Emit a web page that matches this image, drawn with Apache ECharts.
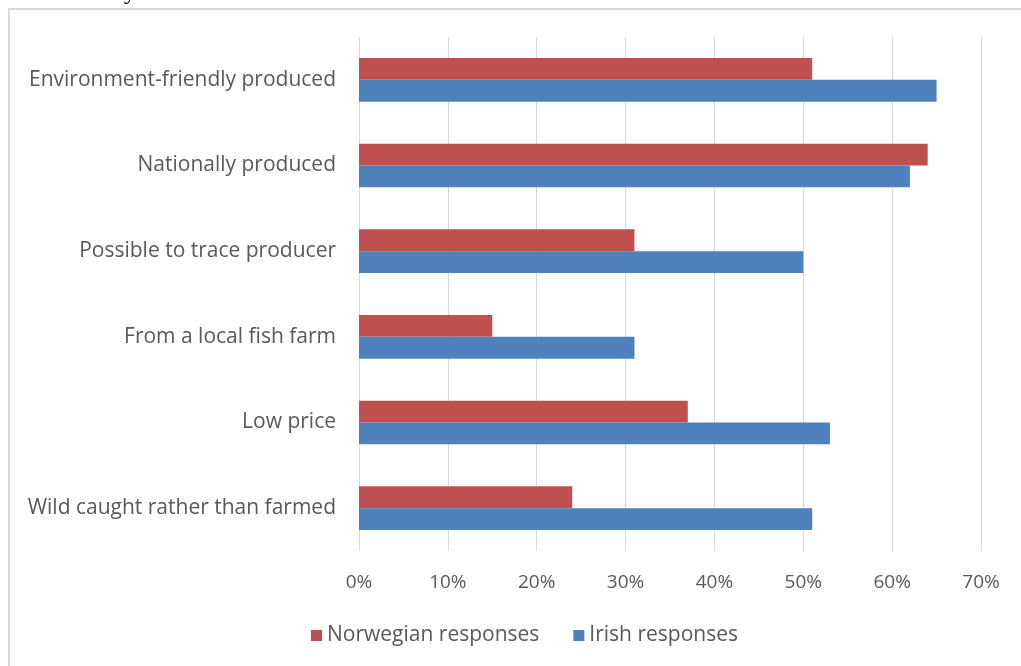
<!DOCTYPE html>
<html>
<head>
<meta charset="utf-8">
<script src="https://cdn.jsdelivr.net/npm/echarts@6/dist/echarts.min.js"></script>
<style>
  html, body { margin: 0; padding: 0; background: #fff; }
  #chart { width: 1021px; height: 666px; }
</style>
</head>
<body>
<div id="chart"></div>
<script>
// Attributes listed from top to bottom
const categories = [
  'Environment-friendly produced',
  'Nationally produced',
  'Possible to trace producer',
  'From a local fish farm',
  'Low price',
  'Wild caught rather than farmed'
];
// Share of respondents (%)
const norwegian = [51, 64, 31, 15, 37, 24];
const irish = [65, 62, 50, 31, 53, 51];
const seriesNames = ['Norwegian responses', 'Irish responses'];

const textColor = '#595959';
const fontFamily = '"Open Sans", Lato, sans-serif';

const chart = echarts.init(document.getElementById('chart'));
chart.setOption({
  animation: false,
  backgroundColor: '#fff',
  textStyle: { fontFamily: fontFamily },
  graphic: [
    {
      type: 'rect',
      shape: { x: 9, y: 9, width: 1030, height: 680 },
      style: { fill: 'none', stroke: '#d9d9d9', lineWidth: 2 },
      silent: true
    },
    {
      type: 'text',
      x: 0, y: -19,
      style: {
        text: 'salmon to buy',
        font: '24px "Liberation Serif", serif',
        fill: '#000',
        verticalAlign: 'top'
      },
      silent: true
    }
  ],
  grid: { left: 359, right: 40, top: 37, bottom: 115, containLabel: false },
  legend: {
    data: seriesNames,
    bottom: 15,
    left: 306,
    itemWidth: 11,
    itemHeight: 11,
    itemGap: 34,
    icon: 'rect',
    textStyle: { color: textColor, fontSize: 21, fontFamily: fontFamily }
  },
  xAxis: {
    type: 'value',
    min: 0,
    max: 70,
    interval: 10,
    axisLine: { show: false },
    axisTick: { show: false },
    splitLine: { show: true, lineStyle: { color: '#d9d9d9', width: 1 } },
    axisLabel: {
      formatter: '{value}%',
      color: textColor,
      fontSize: 19,
      margin: 22
    }
  },
  yAxis: {
    type: 'category',
    data: categories,
    inverse: true,
    axisLine: { show: false },
    axisTick: { show: false },
    axisLabel: { color: textColor, fontSize: 21, margin: 23, padding: [4, 0, 0, 0] }
  },
  series: [
    {
      name: seriesNames[0],
      type: 'bar',
      data: norwegian,
      itemStyle: { color: '#C0504D' },
      barGap: '0%',
      barCategoryGap: '49%'
    },
    {
      name: seriesNames[1],
      type: 'bar',
      data: irish,
      itemStyle: { color: '#4F81BD' },
      barGap: '0%',
      barCategoryGap: '49%'
    }
  ]
});
</script>
</body>
</html>
